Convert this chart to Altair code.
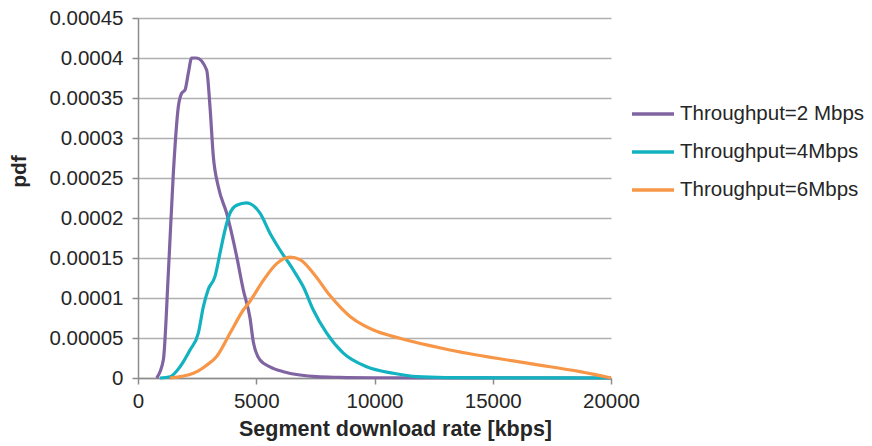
import altair as alt
import pandas as pd

# Throughput = 2 Mbps
x2 = [790, 1071, 1283, 1494, 1705, 1846, 1987, 2128, 2269, 2480, 2903, 3044, 3185, 3397, 3749, 4172, 4453, 4736, 4876, 5159, 5581, 6145, 6850, 7555, 8500, 10000, 14000, 20000]
y2 = [0, 2.25e-5, 1.31e-4, 2.56e-4, 3.39e-4, 3.56e-4, 3.60e-4, 3.81e-4, 4.0e-4, 4.0e-4, 3.85e-4, 3.39e-4, 2.77e-4, 2.39e-4, 2.06e-4, 1.52e-4, 1.10e-4, 7.5e-5, 4.5e-5, 2.25e-5, 1.4e-5, 7.9e-6, 3.75e-6, 1.6e-6, 8e-7, 3e-7, 1e-7, 0]

# Throughput = 4 Mbps
x4 = [930, 1353, 1776, 2199, 2550, 2762, 2973, 3256, 3467, 3679, 3890, 4172, 4596, 4736, 5159, 5581, 6004, 6568, 6990, 7413, 7978, 8682, 9670, 10796, 11783, 13000, 16000, 20000]
y4 = [0, 1.6e-6, 1.4e-5, 3.5e-5, 5.6e-5, 8.9e-5, 1.11e-4, 1.27e-4, 1.56e-4, 1.85e-4, 2.06e-4, 2.16e-4, 2.19e-4, 2.18e-4, 2.06e-4, 1.81e-4, 1.60e-4, 1.35e-4, 1.14e-4, 8.5e-5, 5.6e-5, 3.1e-5, 1.4e-5, 5.9e-6, 1.6e-6, 5e-7, 1e-7, 0]

# Throughput = 6 Mbps
x6 = [1353, 2340, 2903, 3326, 3890, 4453, 4736, 5299, 5863, 6427, 6850, 7413, 8118, 8964, 9528, 9951, 11078, 13192, 16575, 18689, 20000]
y6 = [0, 5.9e-6, 1.6e-5, 2.7e-5, 5.6e-5, 8.5e-5, 9.6e-5, 1.22e-4, 1.43e-4, 1.51e-4, 1.48e-4, 1.31e-4, 1.03e-4, 7.7e-5, 6.6e-5, 6.0e-5, 4.96e-5, 3.5e-5, 1.8e-5, 7.9e-6, 0]

series = ["Throughput=2 Mbps", "Throughput=4Mbps", "Throughput=6Mbps"]
colors = ["#8064A2", "#12B2C0", "#F79646"]
x_ticks = [0, 5000, 10000, 15000, 20000]
y_ticks = [0, 0.00005, 0.0001, 0.00015, 0.0002, 0.00025, 0.0003, 0.00035, 0.0004, 0.00045]

rows = []
for name, xs, ys in zip(series, [x2, x4, x6], [y2, y4, y6]):
    for i, (a, b) in enumerate(zip(xs, ys)):
        rows.append({"series": name, "rate": a, "pdf": b, "order": i})
df = pd.DataFrame(rows)

font = "Liberation Sans"
txt = "#262626"

chart = alt.Chart(df).mark_line(interpolate="monotone", strokeWidth=3.2).encode(
    x=alt.X("rate:Q", title="Segment download rate [kbps]",
            scale=alt.Scale(domain=[0, 20000], nice=False),
            axis=alt.Axis(values=x_ticks, format="d", grid=False, tickSize=6,
                          labelFontSize=20.5, titleFontSize=21.5, titleFontWeight="bold",
                          labelPadding=7, titlePadding=7, labelFlush=False, titleX=257,
                          domainColor="#8c8c8c", tickColor="#8c8c8c", domainWidth=1.5, tickWidth=1.5)),
    y=alt.Y("pdf:Q", title="pdf",
            scale=alt.Scale(domain=[0, 0.00045], nice=False),
            axis=alt.Axis(values=y_ticks, labelExpr="format(datum.value, '.5~f')",
                          grid=True, gridColor="#b0b0b0", gridWidth=1.5, tickSize=6,
                          labelFontSize=20.5, titleFontSize=21, titleFontWeight="bold",
                          labelPadding=9, titlePadding=19, titleY=153,
                          domainColor="#8c8c8c", tickColor="#8c8c8c", domainWidth=1.5, tickWidth=1.5)),
    color=alt.Color("series:N", scale=alt.Scale(domain=series, range=colors),
                    legend=alt.Legend(title=None, orient="none", legendX=492, legendY=85.5,
                                      symbolType="stroke", symbolSize=1764, symbolStrokeWidth=3.5,
                                      labelFontSize=20.5, labelOffset=4, rowPadding=17,
                                      clipHeight=21, labelLimit=400, labelColor=txt)),
    order="order:Q",
).properties(
    width=473, height=360,
    autosize=alt.AutoSizeParams(type="none"),
    padding={"left": 138, "top": 18, "right": 261, "bottom": 68},
).configure(font=font).configure_axis(
    labelColor=txt, titleColor=txt, labelFont=font, titleFont=font
).configure_legend(labelFont=font).configure_view(stroke=None)

chart.save("out.html", embed_options={"renderer": "svg", "actions": False})
